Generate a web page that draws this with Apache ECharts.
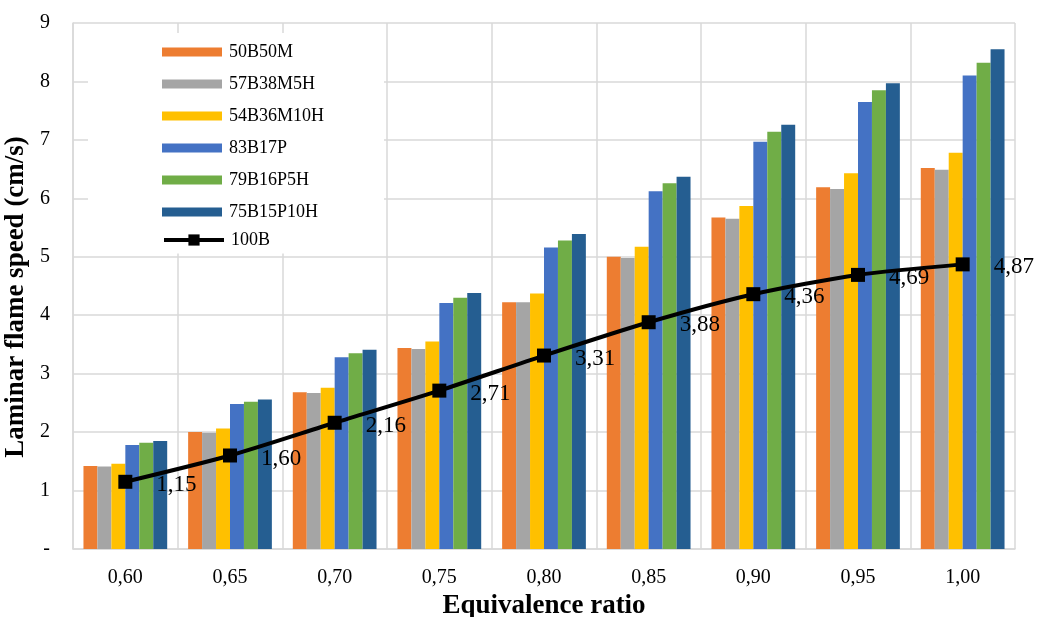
<!DOCTYPE html>
<html>
<head>
<meta charset="utf-8">
<script src="https://cdn.jsdelivr.net/npm/echarts@6/dist/echarts.min.js"></script>
<style>html,body{margin:0;padding:0;background:#fff;}#chart{width:1039px;height:617px;}</style>
</head>
<body>
<div id="chart"></div>
<script>
const categories = ['0,60','0,65','0,70','0,75','0,80','0,85','0,90','0,95','1,00'];
const s50B50M    = [1.42, 2.00, 2.68, 3.44, 4.22, 5.00, 5.67, 6.19, 6.52];
const s57B38M5H  = [1.41, 1.99, 2.67, 3.42, 4.22, 4.98, 5.65, 6.16, 6.49];
const s54B36M10H = [1.46, 2.06, 2.76, 3.55, 4.37, 5.17, 5.87, 6.43, 6.78];
const s83B17P    = [1.78, 2.48, 3.28, 4.21, 5.16, 6.12, 6.97, 7.65, 8.10];
const s79B16P5H  = [1.82, 2.52, 3.35, 4.30, 5.28, 6.26, 7.14, 7.85, 8.32];
const s75B15P10H = [1.85, 2.56, 3.41, 4.38, 5.39, 6.37, 7.26, 7.97, 8.55];
const s100B      = [1.15, 1.60, 2.16, 2.71, 3.31, 3.88, 4.36, 4.69, 4.87];
const yTicks = [0,1,2,3,4,5,6,7,8,9];

const barNames = ['50B50M','57B38M5H','54B36M10H','83B17P','79B16P5H','75B15P10H'];
const barData = [s50B50M, s57B38M5H, s54B36M10H, s83B17P, s79B16P5H, s75B15P10H];
const barColors = ['#ED7D31','#A5A5A5','#FFC000','#4472C4','#70AD47','#255E91'];
const FONT = '"Liberation Serif", "Times New Roman", serif';

const series = barNames.map((n, i) => ({
  name: n, type: 'bar', data: barData[i],
  barGap: '0%', barCategoryGap: '20%',
  itemStyle: { color: barColors[i] }
}));
series.push({
  name: '100B', type: 'line', data: s100B, smooth: 0.25,
  symbol: 'rect', symbolSize: 14,
  lineStyle: { color: '#000', width: 4 },
  itemStyle: { color: '#000' },
  z: 5,
  label: {
    show: true, position: 'right', distance: 24, offset: [0, 3],
    fontFamily: FONT, fontSize: 23, color: '#000',
    formatter: p => p.value.toFixed(2).replace('.', ',')
  }
});

const chart = echarts.init(document.getElementById('chart'));
chart.setOption({
  animation: false,
  backgroundColor: '#fff',
  grid: { left: 73, right: 24, top: 23, bottom: 68, outerBoundsMode: 'none', containLabel: false },
  legend: [{
    data: barNames,
    orient: 'vertical', left: 88, top: 33,
    padding: [10, 60, 32.5, 74],
    backgroundColor: '#fff',
    icon: 'rect', itemWidth: 60, itemHeight: 9, itemGap: 14,
    textStyle: { fontFamily: FONT, fontSize: 18, color: '#000', padding: [0, 0, 0, 2] }
  }, {
    data: [{ name: '100B', lineStyle: { width: 4, color: '#000' } }],
    orient: 'vertical', left: 162, top: 231, padding: 0,
    itemWidth: 60, itemHeight: 14,
    lineStyle: { width: 4, color: '#000' },
    textStyle: { fontFamily: FONT, fontSize: 18, color: '#000', padding: [0, 0, 0, 2] }
  }],
  xAxis: {
    type: 'category', data: categories,
    name: 'Equivalence ratio', nameLocation: 'middle', nameGap: 42,
    nameTextStyle: { fontFamily: FONT, fontSize: 27, fontWeight: 'bold', color: '#000' },
    axisLine: { lineStyle: { color: '#D9D9D9', width: 1.5 } },
    axisTick: { show: false },
    axisLabel: { fontFamily: FONT, fontSize: 20, color: '#000', margin: 19 },
    splitLine: { show: true, lineStyle: { color: '#D9D9D9', width: 1.5 } }
  },
  yAxis: {
    type: 'value', min: yTicks[0], max: yTicks[yTicks.length - 1], interval: 1,
    name: 'Laminar flame speed (cm/s)', nameLocation: 'middle', nameGap: 29,
    nameTextStyle: { fontFamily: FONT, fontSize: 27, fontWeight: 'bold', color: '#000', padding: [0, 22, 0, 0] },
    axisLine: { show: true, lineStyle: { color: '#D9D9D9', width: 1.5 } },
    axisTick: { show: false },
    axisLabel: { fontFamily: FONT, fontSize: 20, color: '#000', margin: 23,
      formatter: v => v === 0 ? '-' : String(v) },
    splitLine: { show: true, lineStyle: { color: '#D9D9D9', width: 1.5 } }
  },
  series: series
});
</script>
</body>
</html>
